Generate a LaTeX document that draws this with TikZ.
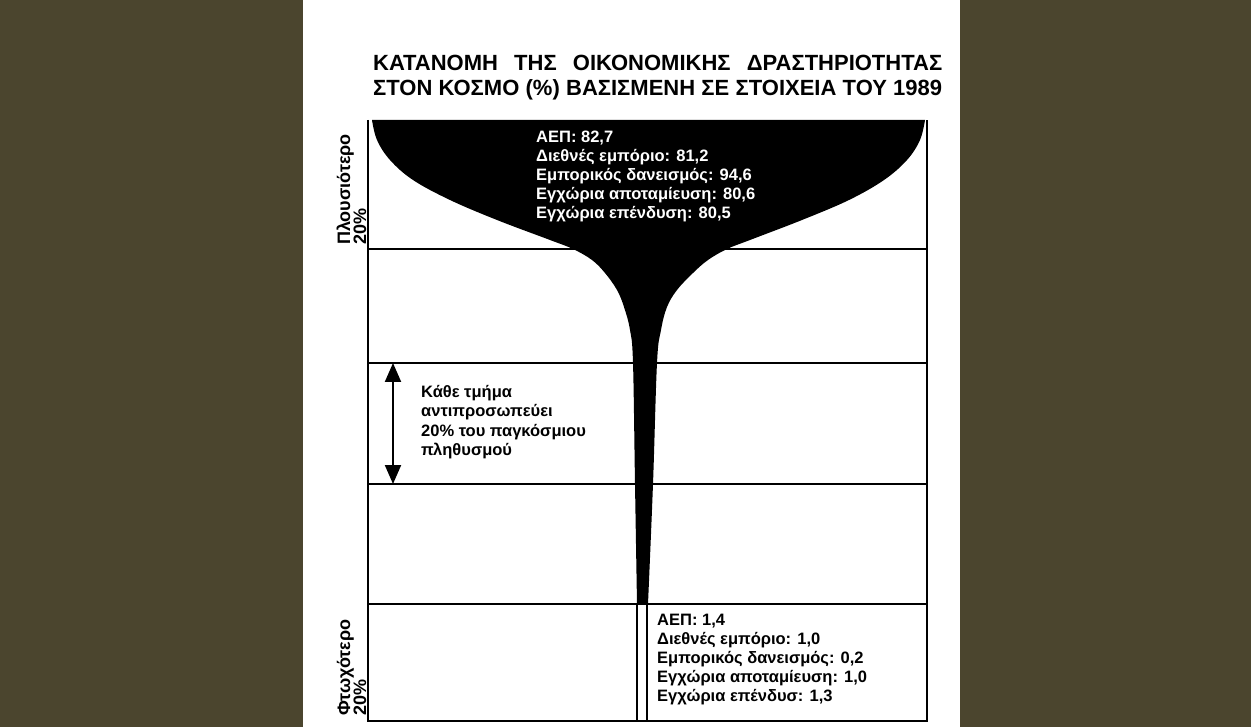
\documentclass[tikz,border=0pt]{standalone}
\usepackage{fontspec}
\setmainfont{Liberation Sans}
\usetikzlibrary{arrows.meta}
\definecolor{olivebg}{RGB}{75,69,46}
\begin{document}
\begin{tikzpicture}[x=1pt,y=-1pt,
  frame/.style={line width=2pt},
  titlef/.style={font=\bfseries\fontsize{22}{26}\selectfont, inner sep=0pt, anchor=base west},
  lbl/.style={font=\bfseries\fontsize{16.5}{19}\selectfont, inner sep=0pt, anchor=base west},
  side/.style={font=\bfseries\fontsize{18}{20}\selectfont, inner sep=0pt, anchor=base west, rotate=90}]
\useasboundingbox (0,0) rectangle (1251,727);
\fill[olivebg] (0,0) rectangle (1251,727);
\fill[white] (303,0) rectangle (960,727);
% title
\node[titlef] (title1) at (373,71) {\makebox[569pt][s]{ΚΑΤΑΝΟΜΗ ΤΗΣ ΟΙΚΟΝΟΜΙΚΗΣ ΔΡΑΣΤΗΡΙΟΤΗΤΑΣ}};
\node[titlef] (title2) at (373,96) {\makebox[569pt][s]{ΣΤΟΝ ΚΟΣΜΟ (\%) ΒΑΣΙΣΜΕΝΗ ΣΕ ΣΤΟΙΧΕΙΑ ΤΟΥ 1989}};
% funnel
\fill[black] plot[smooth, tension=0.6] coordinates {(372,120) (377,140) (390,160) (413,180) (450,200) (497,220) (550,240) (573,249) (592,260) (605,273) (617,290) (624,307) (630,330) (633,363) (635,484) (637,604)}
  -- plot[smooth, tension=0.6] coordinates {(648,604) (653,484) (657,363) (661,330) (667,307) (677,290) (693,273) (708,260) (727,249) (750,240) (802,220) (849,200) (884,180) (907,160) (920,140) (925,120)} -- cycle;
% frame
\draw[frame] (368,120) -- (368,721) -- (927,721) -- (927,120);
\foreach \yy in {249,363,484,604} \draw[frame] (368,\yy) -- (927,\yy);
\draw[line width=1.5pt] (637,604) -- (637,721) (647,604) -- (647,721);
% top text
\node[lbl, text=white] (r1) at (536,143) {ΑΕΠ: 82,7};
\node[lbl, text=white] (r2) at (536,162) {Διεθνές εμπόριο: 81,2};
\node[lbl, text=white] (r3) at (536,181) {Εμπορικός δανεισμός: 94,6};
\node[lbl, text=white] (r4) at (536,200) {Εγχώρια αποταμίευση: 80,6};
\node[lbl, text=white] (r5) at (536,219) {Εγχώρια επένδυση: 80,5};
% bottom text
\node[lbl] (p1) at (657,625) {ΑΕΠ: 1,4};
\node[lbl] (p2) at (657,644) {Διεθνές εμπόριο: 1,0};
\node[lbl] (p3) at (657,663) {Εμπορικός δανεισμός: 0,2};
\node[lbl] (p4) at (657,682) {Εγχώρια αποταμίευση: 1,0};
\node[lbl] (p5) at (657,701) {Εγχώρια επένδυσ: 1,3};
% middle text
\node[lbl] (m1) at (421,398) {Κάθε τμήμα};
\node[lbl] (m2) at (421,417) {αντιπροσωπεύει};
\node[lbl] (m3) at (421,436) {20\% του παγκόσμιου};
\node[lbl] (m4) at (421,455) {πληθυσμού};
% arrow
\coordinate (atop) at (393,363);
\coordinate (abot) at (393,484);
\draw[line width=2pt, {Triangle[length=19pt,width=16pt]}-{Triangle[length=19pt,width=16pt]}] (atop) -- (abot);
% side labels
\node[side] (s1) at (350,245) {Πλουσιότερο};
\node[side] (s2) at (366,245) {20\%};
\node[side] (s3) at (350,716) {Φτωχότερο};
\node[side] (s4) at (366,716) {20\%};
\end{tikzpicture}
\end{document}
